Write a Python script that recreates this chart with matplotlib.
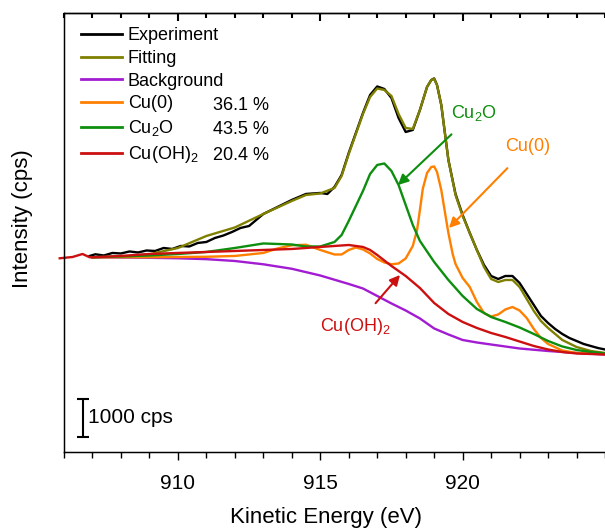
import matplotlib
matplotlib.use('Agg')
import matplotlib.pyplot as plt
from matplotlib.ticker import MultipleLocator, NullFormatter

plt.rcParams['font.family'] = ['Liberation Sans', 'DejaVu Sans']
plt.rcParams['mathtext.default'] = 'regular'

# ---------------- data (Kinetic energy in eV, intensity in cps) ----------------
exp_x = [906.9, 907.1, 907.4, 907.7, 908.0, 908.3, 908.6, 908.9, 909.2, 909.5, 909.8,
         910.1, 910.4, 910.7, 911.0, 911.3, 911.6, 911.9, 912.2, 912.5, 913.0, 914.0,
         914.5, 915.0, 915.25, 915.5, 915.75, 916.0, 916.25, 916.5, 916.75, 917.0,
         917.25, 917.5, 917.75, 918.0, 918.25, 918.5, 918.75, 918.9, 919.0, 919.1,
         919.25, 919.4, 919.5, 919.75, 920.0, 920.25, 920.5, 920.75, 921.0, 921.25,
         921.5, 921.75, 922.0, 922.25, 922.5, 922.75, 923.0, 923.25, 923.5, 923.75,
         924.0, 924.25, 924.5, 924.75, 925.0]
exp_y = [5159, 5203, 5172, 5238, 5225, 5277, 5251, 5303, 5290, 5369, 5343,
         5422, 5409, 5501, 5527, 5632, 5698, 5790, 5896, 5948, 6264, 6633,
         6791, 6817, 6791, 6975, 7291, 7870, 8396, 8922, 9396, 9620,
         9554, 9317, 8791, 8422, 8475, 9001, 9607, 9791, 9831, 9659,
         9133, 8264, 7685, 6791, 6238, 5764, 5317, 4922, 4632, 4553,
         4632, 4632, 4448, 4159, 3869, 3580, 3395, 3237, 3106, 3000,
         2922, 2843, 2790, 2737, 2698]

fit_x = [907.0, 908.0, 909.0, 910.0, 911.0, 912.0, 913.0, 914.0, 914.5, 915.0, 915.5,
         915.75, 916.0, 916.25, 916.5, 916.75, 917.0, 917.25, 917.5, 917.75, 918.0,
         918.25, 918.5, 918.75, 918.9, 919.0, 919.1, 919.25, 919.4, 919.5, 919.75,
         920.0, 920.25, 920.5, 920.75, 921.0, 921.25, 921.5, 921.75, 922.0, 922.25,
         922.5, 922.75, 923.0, 923.5, 924.0, 924.5, 925.0]
fit_y = [5125, 5138, 5203, 5369, 5685, 5909, 6264, 6606, 6764, 6804, 6948,
         7264, 7843, 8370, 8896, 9344, 9567, 9528, 9370, 8896, 8528,
         8501, 9001, 9607, 9791, 9817, 9659, 9133, 8264, 7685, 6764,
         6212, 5764, 5317, 4869, 4553, 4474, 4527, 4527, 4343, 4027,
         3711, 3448, 3264, 2948, 2764, 2658, 2606]

bg_x = [907.0, 908.0, 909.0, 910.0, 911.0, 912.0, 913.0, 914.0, 915.0, 916.0, 916.5,
        917.0, 917.5, 918.0, 918.5, 919.0, 919.5, 920.0, 920.5, 921.0, 922.0, 923.0,
        924.0, 925.0]
bg_y = [5125, 5119, 5111, 5098, 5075, 5027, 4940, 4822, 4645, 4422, 4303,
        4106, 3909, 3724, 3514, 3251, 3093, 2948, 2882, 2829, 2724, 2658,
        2606, 2566]

cu0_x = [907.0, 909.0, 911.0, 912.0, 913.0, 913.5, 914.0, 914.5, 915.0, 915.5, 915.75,
         916.0, 916.25, 916.5, 916.75, 917.0, 917.25, 917.5, 917.75, 918.0, 918.25,
         918.4, 918.5, 918.6, 918.75, 918.9, 919.0, 919.1, 919.25, 919.4, 919.5,
         919.65, 919.75, 920.0, 920.25, 920.5, 920.75, 921.0, 921.25, 921.5, 921.75,
         922.0, 922.25, 922.5, 922.75, 923.0, 923.5, 924.0, 925.0]
cu0_y = [5125, 5125, 5138, 5159, 5238, 5356, 5440, 5454, 5317, 5198, 5198,
         5317, 5382, 5330, 5225, 5080, 4988, 4940, 4961, 5093, 5422,
         5843, 6369, 6922, 7343, 7501, 7514, 7370, 6896, 6212, 5764,
         5211, 4948, 4580, 4343, 3948, 3658, 3566, 3619, 3751, 3816,
         3724, 3527, 3237, 3000, 2843, 2671, 2606, 2579]

cu2o_x = [907.0, 908.0, 909.0, 910.0, 911.0, 912.0, 913.0, 914.0, 914.5, 915.0, 915.5,
          915.75, 916.0, 916.25, 916.5, 916.75, 917.0, 917.25, 917.5, 917.75, 918.0,
          918.25, 918.5, 919.0, 919.5, 920.0, 920.5, 921.0, 921.5, 922.0, 922.5,
          923.0, 923.5, 924.0, 924.5, 925.0]
cu2o_y = [5125, 5146, 5172, 5211, 5264, 5369, 5488, 5461, 5409, 5409, 5527,
          5711, 6080, 6475, 6870, 7317, 7554, 7593, 7396, 7027, 6501,
          5975, 5554, 5001, 4527, 4106, 3764, 3553, 3422, 3277, 3106,
          2922, 2777, 2685, 2632, 2593]

cuoh_x = [905.85, 906.3, 906.65, 906.9, 907.0, 908.0, 909.0, 910.0, 911.0, 912.0, 913.0,
          914.0, 915.0, 915.5, 916.0, 916.5, 916.75, 917.0, 917.25, 917.5, 918.0,
          918.5, 919.0, 919.5, 920.0, 920.5, 921.0, 921.5, 922.0, 922.5, 923.0,
          923.5, 924.0, 925.0]
cuoh_y = [5098, 5132, 5211, 5125, 5125, 5159, 5211, 5238, 5264, 5290, 5317,
          5343, 5396, 5422, 5448, 5396, 5317, 5185, 5040, 4896, 4632,
          4316, 3922, 3632, 3422, 3264, 3132, 3027, 2908, 2790, 2698,
          2632, 2593, 2566]

series_labels = ['Experiment', 'Fitting', 'Background', 'Cu(0)', 'Cu$_2$O', 'Cu(OH)$_2$']
percent_labels = ['36.1 %', '43.5 %', '20.4 %']
xticks_major = [910, 915, 920]
scale_bar_cps = 1000

colors = {'exp': '#000000', 'fit': '#808000', 'bg': '#A21CD2',
          'cu0': '#FF8000', 'cu2o': '#0E8E0E', 'cuoh': '#CC1010'}

# ---------------- figure ----------------
fig = plt.figure(figsize=(6.05, 5.31), dpi=100)
ax = fig.add_axes([64/605, 1-452/531, 541/605, 439/531])

lw = 1.7
ax.plot(exp_x, exp_y, color=colors['exp'], lw=lw, label=series_labels[0])
ax.plot(fit_x, fit_y, color=colors['fit'], lw=lw, label=series_labels[1])
ax.plot(bg_x, bg_y, color=colors['bg'], lw=lw, label=series_labels[2])
ax.plot(cu0_x, cu0_y, color=colors['cu0'], lw=lw, label=series_labels[3])
ax.plot(cu2o_x, cu2o_y, color=colors['cu2o'], lw=lw, label=series_labels[4])
ax.plot(cuoh_x, cuoh_y, color=colors['cuoh'], lw=lw, label=series_labels[5], clip_on=False)

ax.set_xlim(906, 925)
ax.set_ylim(0, 11553)

ax.spines['right'].set_visible(False)
for s in ['left', 'top', 'bottom']:
    ax.spines[s].set_linewidth(1.0)

ax.set_xticks(xticks_major)
ax.xaxis.set_minor_locator(MultipleLocator(1))
ax.tick_params(axis='x', which='major', direction='out', length=6, width=1.0,
               labelsize=15, pad=9.5, top=False, bottom=True)
ax.tick_params(axis='x', which='minor', direction='out', length=4, width=1.0,
               top=False, bottom=True)
ax.tick_params(axis='y', left=False, labelleft=False)

# top axis: inward ticks at the same positions, no labels
ax2 = ax.twiny()
ax2.set_xlim(ax.get_xlim())
ax2.set_xticks(xticks_major)
ax2.xaxis.set_minor_locator(MultipleLocator(1))
ax2.xaxis.set_major_formatter(NullFormatter())
ax2.tick_params(axis='x', which='major', direction='in', length=6, width=1.5,
                color='black', top=True, bottom=False, labeltop=False)
ax2.tick_params(axis='x', which='minor', direction='in', length=3.5, width=1.5,
                color='black', top=True, bottom=False)
ax2.spines['right'].set_visible(False)
ax2.spines['top'].set_linewidth(1.0)

ax.set_xlabel('Kinetic Energy (eV)', fontsize=16)
ax.xaxis.set_label_coords(0.484, -0.126)
ax.set_ylabel('Intensity (cps)', fontsize=16)
ax.yaxis.set_label_coords(-0.058, 0.531)

# legend
handles, labels = ax.get_legend_handles_labels()
leg = ax2.legend(handles, labels, loc='upper left', bbox_to_anchor=(0.031, 0.968),
                 frameon=False, fontsize=13, handlelength=2.3, handletextpad=0.3,
                 labelspacing=0.32, borderpad=0, borderaxespad=0)
for line in leg.get_lines():
    line.set_linewidth(2.0)

pct_y = [0.790, 0.735, 0.676]
for p, yy in zip(percent_labels, pct_y):
    ax.text(0.2754, yy, p, transform=ax.transAxes, fontsize=13, va='center', ha='left')

# annotations
ax.annotate('Cu$_2$O', xy=(917.73, 7027), xytext=(920.40, 8922), color=colors['cu2o'],
            fontsize=13, ha='center', va='center',
            arrowprops=dict(arrowstyle='-|>', color=colors['cu2o'], lw=1.5,
                            mutation_scale=15, shrinkA=9, shrinkB=0))
ax.annotate('Cu(0)', xy=(919.52, 5896), xytext=(922.30, 8028), color=colors['cu0'],
            fontsize=13, ha='center', va='center',
            arrowprops=dict(arrowstyle='-|>', color=colors['cu0'], lw=1.5,
                            mutation_scale=15, shrinkA=10, shrinkB=0))
ax.annotate('Cu(OH)$_2$', xy=(917.80, 4659), xytext=(916.22, 3290), color=colors['cuoh'],
            fontsize=13, ha='center', va='center',
            arrowprops=dict(arrowstyle='-|>', color=colors['cuoh'], lw=1.5,
                            mutation_scale=15, shrinkA=10, shrinkB=0))

# scale bar
ax.errorbar([906.68], [395 + scale_bar_cps / 2], yerr=[scale_bar_cps / 2], color='black',
            lw=1.5, capsize=4, capthick=1.5, fmt='none')
ax.text(906.86, 395 + scale_bar_cps / 2, f'{scale_bar_cps} cps', fontsize=15,
        va='center', ha='left')

fig.savefig('out.png', dpi=100)
